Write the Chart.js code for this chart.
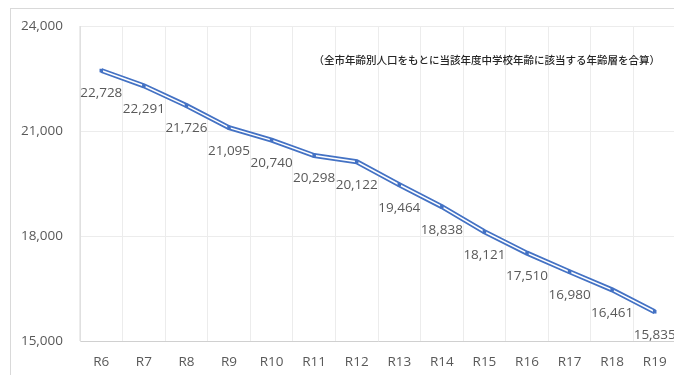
<!DOCTYPE html>
<html>
<head>
<meta charset="utf-8">
<script src="https://cdn.jsdelivr.net/npm/chart.js@4/dist/chart.umd.min.js"></script>
<style>
  html, body { margin: 0; padding: 0; background: #fff; overflow: hidden; }
  #wrap { width: 680px; height: 375px; position: relative; }
</style>
</head>
<body>
<div id="wrap"><canvas id="myChart"></canvas></div>
<script>
// 年度と生徒数（中学校年齢人口）
const years = ['R6', 'R7', 'R8', 'R9', 'R10', 'R11', 'R12', 'R13', 'R14', 'R15', 'R16', 'R17', 'R18', 'R19']
const nombres = [22728, 22291, 21726, 21095, 20740, 20298, 20122, 19464, 18838, 18121, 17510, 16980, 16461, 15835]
const yTicks = [15000, 18000, 21000, 24000]
const note = '（全市年齢別人口をもとに当該年度中学校年齢に該当する年齢層を合算）'

const bleu = '#4472C4'
const gris = '#595959'

// cadre, note et étiquettes de données
const decor = {
  id: 'decor',
  beforeDraw(chart) {
    const ctx = chart.ctx
    ctx.save()
    ctx.fillStyle = '#fff'
    ctx.fillRect(0, 0, chart.width, chart.height)
    ctx.strokeStyle = '#d9d9d9'
    ctx.lineWidth = 1
    ctx.strokeRect(10.5, 8.5, 1000, 1000)
    ctx.restore()
  },
  afterDatasetsDraw(chart) {
    const ctx = chart.ctx
    const meta = chart.getDatasetMeta(0)
    ctx.save()
    ctx.font = '13.5px "Open Sans", sans-serif'
    ctx.fillStyle = gris
    ctx.textAlign = 'center'
    ctx.textBaseline = 'middle'
    meta.data.forEach((pt, i) => {
      ctx.fillText(nombres[i].toLocaleString('en-US'), pt.x, pt.y + 23)
    })
    ctx.font = '500 10.5px "Noto Sans CJK JP", sans-serif'
    ctx.fillStyle = '#262626'
    ctx.textAlign = 'right'
    ctx.fillText(note, 660, 60)
    ctx.restore()
  }
}

const data = {
  labels: years,
  datasets: [
    {
      // marqueurs
      data: nombres,
      showLine: false,
      pointStyle: 'rect',
      pointRadius: 2.5,
      pointBackgroundColor: bleu,
      pointBorderColor: bleu,
      pointBorderWidth: 0
    },
    {
      // trait blanc intérieur
      data: nombres,
      borderColor: '#ffffff',
      borderWidth: 1.5,
      pointRadius: 0,
      tension: 0
    },
    {
      // trait bleu extérieur
      data: nombres,
      borderColor: bleu,
      borderWidth: 5,
      pointRadius: 0,
      tension: 0
    }
  ]
}

const config = {
  type: 'line',
  data: data,
  options: {
    responsive: true,
    maintainAspectRatio: false,
    animation: false,
    events: [],
    layout: { padding: { top: 26, right: 4, left: 0, bottom: 0 } },
    plugins: {
      legend: { display: false },
      tooltip: { enabled: false }
    },
    scales: {
      x: {
        offset: true,
        grid: { offset: true, color: '#ececec', drawTicks: false },
        border: { color: '#d0d0d0' },
        ticks: { color: gris, padding: 13, font: { size: 13.5, family: '"Open Sans", sans-serif' } },
        afterFit(scale) { scale.height = 34 }
      },
      y: {
        min: 15000,
        max: 24000,
        afterBuildTicks(scale) { scale.ticks = yTicks.map((v) => ({ value: v })) },
        grid: { color: '#ececec', drawTicks: false },
        border: { color: '#e0e0e0' },
        ticks: {
          color: gris,
          padding: 17,
          font: { size: 13.5, family: '"Open Sans", sans-serif' },
          callback: (v) => v.toLocaleString('en-US')
        },
        afterFit(scale) { scale.width = 80 }
      }
    }
  },
  plugins: [decor]
}

const myChart = new Chart(document.getElementById('myChart'), config)
</script>
</body>
</html>
